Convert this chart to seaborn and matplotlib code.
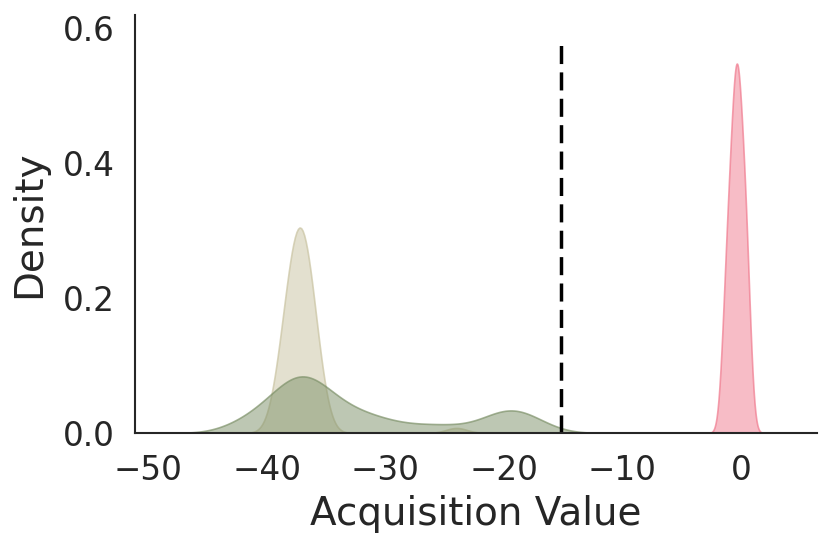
import numpy as np
import seaborn as sns
import matplotlib.pyplot as plt
from matplotlib.colors import to_rgba

# acquisition values per group
pink_values = [-1.4, -1.1, -0.9, -0.7, -0.5, -0.4, -0.3, -0.2, 0.0, 0.2, 0.4, 0.6]

tan_values = [-38.8, -38.2, -37.8, -37.5, -37.2, -37.0, -36.7, -36.3, -35.8, -24.0]
tan_weights = [1, 1, 1, 1, 1, 1, 1, 1, 1, 0.15]

green_values = [
    -42.5, -41.0, -40.0, -39.5, -39.0, -38.5, -38.0, -37.5, -37.5, -37.0, -37.0,
    -36.5, -36.5, -36.0, -35.5, -35.0, -34.5, -34.0, -33.0, -32.0, -31.0, -29.5,
    -27.0, -24.5,
    -21.5, -20.5, -19.5, -19.0, -18.5, -17.0,
]

threshold = -15.2
threshold_top = 0.584

pink = "#f07a8e"
tan = "#c9c3a1"
green = "#7d9169"

sns.set_theme(style="white")

fig, ax = plt.subplots(figsize=(8.3, 5.46), dpi=100)
fig.subplots_adjust(left=0.163, right=0.984, top=0.973, bottom=0.207)

sns.kdeplot(x=pink_values, ax=ax, fill=True, color=pink, alpha=0.5,
            linewidth=1.2, edgecolor=to_rgba(pink, 0.7))
sns.kdeplot(x=tan_values, weights=tan_weights, bw_method=0.44, ax=ax,
            fill=True, color=tan, alpha=0.5, linewidth=1.2, edgecolor=to_rgba(tan, 0.7))
sns.kdeplot(x=green_values, bw_method=0.245, ax=ax,
            fill=True, color=green, alpha=0.5, linewidth=1.2, edgecolor=to_rgba(green, 0.7))

ax.vlines(threshold, 0, threshold_top, colors="black", linestyles=(0, (5.2, 2.4)),
          linewidth=2.5)

ax.set_xlim(-51.1, 6.4)
ax.set_ylim(0, 0.619)
ax.set_xticks([-50, -40, -30, -20, -10, 0])
ax.set_yticks([0.0, 0.2, 0.4, 0.6])
ax.tick_params(labelsize=23.5, pad=9)
ax.set_xlabel("Acquisition Value", fontsize=28, labelpad=6)
ax.set_ylabel("Density", fontsize=28, labelpad=10)
for side in ["left", "bottom"]:
    ax.spines[side].set_color("#262626")
    ax.spines[side].set_linewidth(1.5)
sns.despine(ax=ax)

plt.savefig("out.png")
